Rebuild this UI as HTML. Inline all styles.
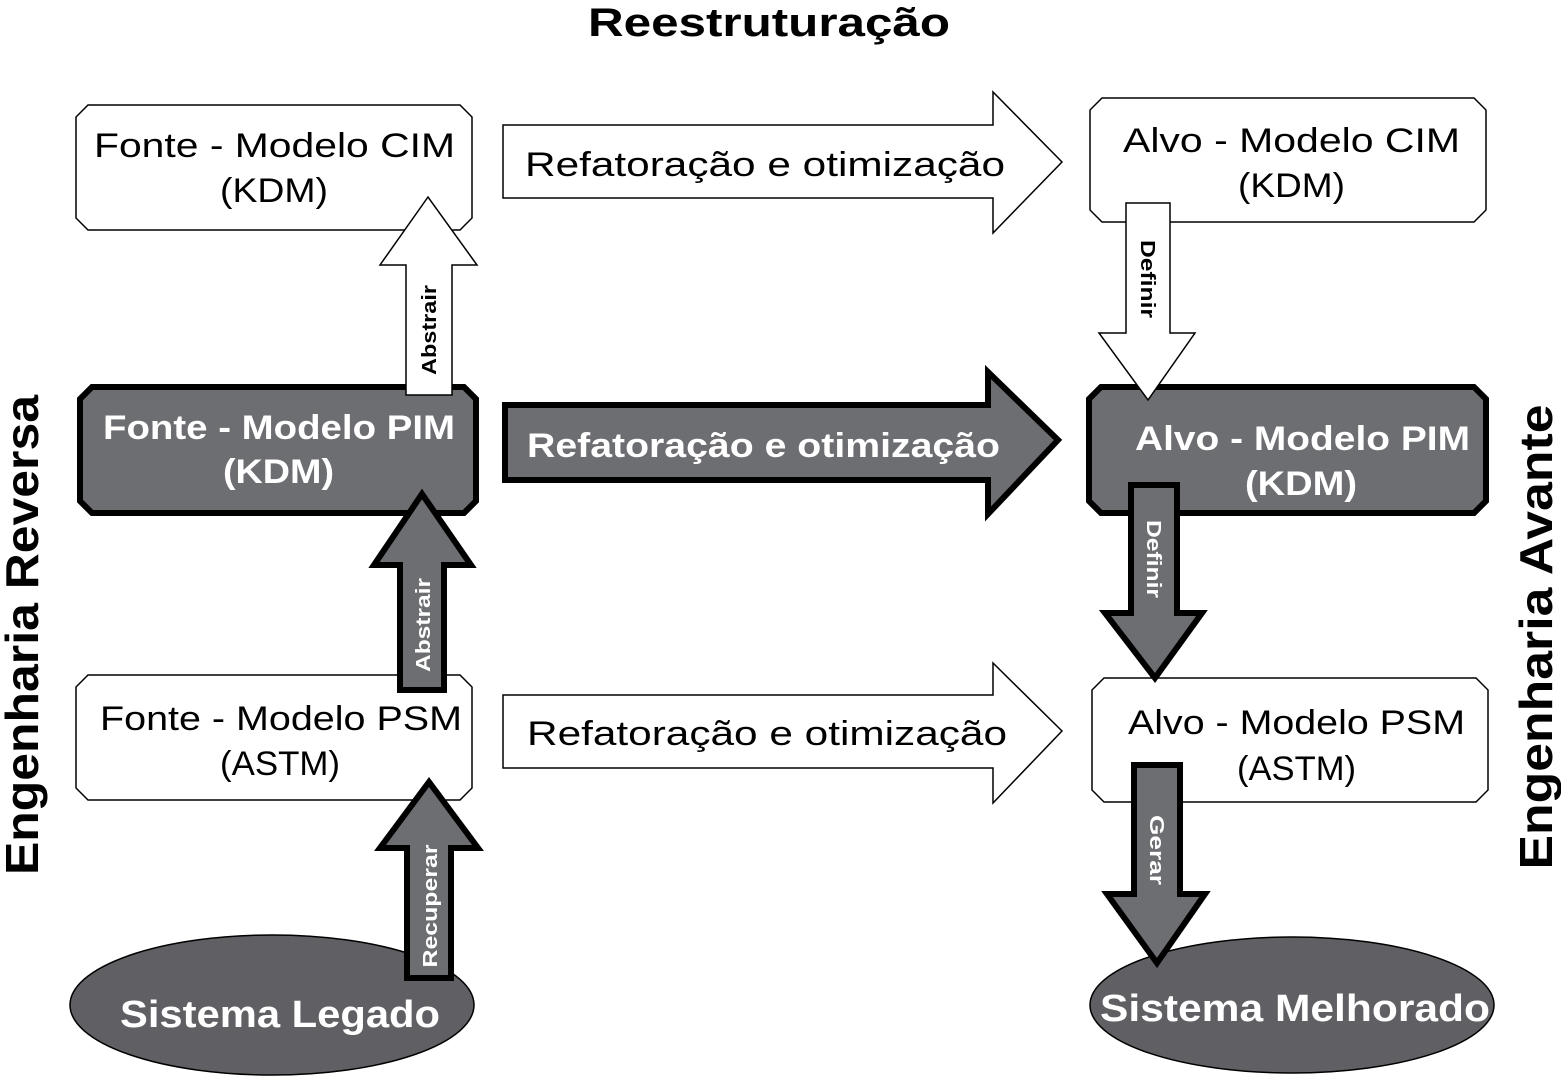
<!DOCTYPE html>
<html><head><meta charset="utf-8"><style>
html,body{margin:0;padding:0;background:#fff;}
svg{display:block;}
text{font-family:"Liberation Sans",sans-serif;}
</style></head><body>
<svg width="1561" height="1079" viewBox="0 0 1561 1079" xmlns="http://www.w3.org/2000/svg">
<text x="588" y="36" font-size="40" font-weight="bold" textLength="362" lengthAdjust="spacingAndGlyphs">Reestruturação</text>
<text transform="translate(38,635) rotate(-90)" font-size="46" font-weight="bold" text-anchor="middle" textLength="480" lengthAdjust="spacingAndGlyphs">Engenharia Reversa</text>
<text transform="translate(1552,637) rotate(-90)" font-size="46" font-weight="bold" text-anchor="middle" textLength="465" lengthAdjust="spacingAndGlyphs">Engenharia Avante</text>

<!-- horizontal arrows -->
<polygon points="503,125 993,125 993,92 1062,162 993,233 993,198 503,198" fill="#fff" stroke="#000" stroke-width="1.5"/>
<text x="525" y="176" font-size="34" textLength="480" lengthAdjust="spacingAndGlyphs">Refatoração e otimização</text>
<polygon points="505,405 988,405 988,372 1058,440 988,514 988,480 505,480" fill="#6d6e72" stroke="#000" stroke-width="6"/>
<text x="527" y="457" font-size="34" font-weight="bold" fill="#fff" textLength="473" lengthAdjust="spacingAndGlyphs">Refatoração e otimização</text>
<polygon points="503,695 993,695 993,663 1062,731 993,803 993,768 503,768" fill="#fff" stroke="#000" stroke-width="1.5"/>
<text x="527" y="745" font-size="34" textLength="480" lengthAdjust="spacingAndGlyphs">Refatoração e otimização</text>

<!-- left boxes -->
<polygon points="88,105 460,105 472,117 472,218 460,230 88,230 76,218 76,117" fill="#fff" stroke="#000" stroke-width="1.5"/>
<text x="94" y="157" font-size="34" textLength="361" lengthAdjust="spacingAndGlyphs">Fonte - Modelo CIM</text>
<text x="220" y="202" font-size="34" textLength="108" lengthAdjust="spacingAndGlyphs">(KDM)</text>

<polygon points="92,387 464,387 476,399 476,501 464,513 92,513 80,501 80,399" fill="#6d6e72" stroke="#000" stroke-width="6"/>
<text x="103" y="439" font-size="34" font-weight="bold" fill="#fff" textLength="352" lengthAdjust="spacingAndGlyphs">Fonte - Modelo PIM</text>
<text x="223" y="483" font-size="34" font-weight="bold" fill="#fff" textLength="111" lengthAdjust="spacingAndGlyphs">(KDM)</text>

<polygon points="88,675 460,675 472,687 472,788 460,800 88,800 76,788 76,687" fill="#fff" stroke="#000" stroke-width="1.5"/>
<text x="100" y="730" font-size="34" textLength="362" lengthAdjust="spacingAndGlyphs">Fonte - Modelo PSM</text>
<text x="220" y="775" font-size="34" textLength="120" lengthAdjust="spacingAndGlyphs">(ASTM)</text>

<ellipse cx="272" cy="1005" rx="202" ry="70" fill="#606064" stroke="#000" stroke-width="1.5"/>
<text x="120" y="1027" font-size="38" font-weight="bold" fill="#fff" textLength="320" lengthAdjust="spacingAndGlyphs">Sistema Legado</text>

<!-- right boxes -->
<polygon points="1102,98 1474,98 1486,110 1486,210 1474,222 1102,222 1090,210 1090,110" fill="#fff" stroke="#000" stroke-width="1.5"/>
<text x="1123" y="152" font-size="34" textLength="337" lengthAdjust="spacingAndGlyphs">Alvo - Modelo CIM</text>
<text x="1238" y="197" font-size="34" textLength="107" lengthAdjust="spacingAndGlyphs">(KDM)</text>

<polygon points="1101,387 1474,387 1486,399 1486,501 1474,513 1101,513 1089,501 1089,399" fill="#6d6e72" stroke="#000" stroke-width="6"/>
<text x="1135" y="450" font-size="34" font-weight="bold" fill="#fff" textLength="335" lengthAdjust="spacingAndGlyphs">Alvo - Modelo PIM</text>
<text x="1245" y="495" font-size="34" font-weight="bold" fill="#fff" textLength="112" lengthAdjust="spacingAndGlyphs">(KDM)</text>

<polygon points="1104,678 1476,678 1488,690 1488,790 1476,802 1104,802 1092,790 1092,690" fill="#fff" stroke="#000" stroke-width="1.5"/>
<text x="1128" y="734" font-size="34" textLength="337" lengthAdjust="spacingAndGlyphs">Alvo - Modelo PSM</text>
<text x="1237" y="780" font-size="34" textLength="119" lengthAdjust="spacingAndGlyphs">(ASTM)</text>

<ellipse cx="1292" cy="1005" rx="202" ry="68" fill="#606064" stroke="#000" stroke-width="1.5"/>
<text x="1100" y="1021" font-size="38" font-weight="bold" fill="#fff" textLength="390" lengthAdjust="spacingAndGlyphs">Sistema Melhorado</text>

<!-- vertical arrows -->
<polygon points="406,395 406,265 380,265 428,197 477,265 452,265 452,395" fill="#fff" stroke="#000" stroke-width="1.5"/>
<text transform="translate(436,330) rotate(-90)" font-size="20" font-weight="bold" text-anchor="middle" textLength="90" lengthAdjust="spacingAndGlyphs">Abstrair</text>

<polygon points="400,690 400,565 374,565 422,494 471,565 444,565 444,690" fill="#6d6e72" stroke="#000" stroke-width="6"/>
<text transform="translate(430,625) rotate(-90)" font-size="20" font-weight="bold" fill="#fff" text-anchor="middle" textLength="94" lengthAdjust="spacingAndGlyphs">Abstrair</text>

<polygon points="407,978 407,848 380,848 429,782 478,848 451,848 451,978" fill="#6d6e72" stroke="#000" stroke-width="6"/>
<text transform="translate(437,906) rotate(-90)" font-size="20" font-weight="bold" fill="#fff" text-anchor="middle" textLength="123" lengthAdjust="spacingAndGlyphs">Recuperar</text>

<polygon points="1126,203 1170,203 1170,333 1195,333 1148,400 1099,333 1126,333" fill="#fff" stroke="#000" stroke-width="1.5"/>
<text transform="translate(1141,279) rotate(90)" font-size="20" font-weight="bold" text-anchor="middle" textLength="78" lengthAdjust="spacingAndGlyphs">Definir</text>

<polygon points="1131,485 1177,485 1177,613 1202,613 1155,678 1105,613 1131,613" fill="#6d6e72" stroke="#000" stroke-width="6"/>
<text transform="translate(1147,559) rotate(90)" font-size="20" font-weight="bold" fill="#fff" text-anchor="middle" textLength="78" lengthAdjust="spacingAndGlyphs">Definir</text>

<polygon points="1134,765 1180,765 1180,894 1205,894 1157,963 1107,894 1134,894" fill="#6d6e72" stroke="#000" stroke-width="6"/>
<text transform="translate(1150,850) rotate(90)" font-size="20" font-weight="bold" fill="#fff" text-anchor="middle" textLength="70" lengthAdjust="spacingAndGlyphs">Gerar</text>
</svg>
</body></html>
